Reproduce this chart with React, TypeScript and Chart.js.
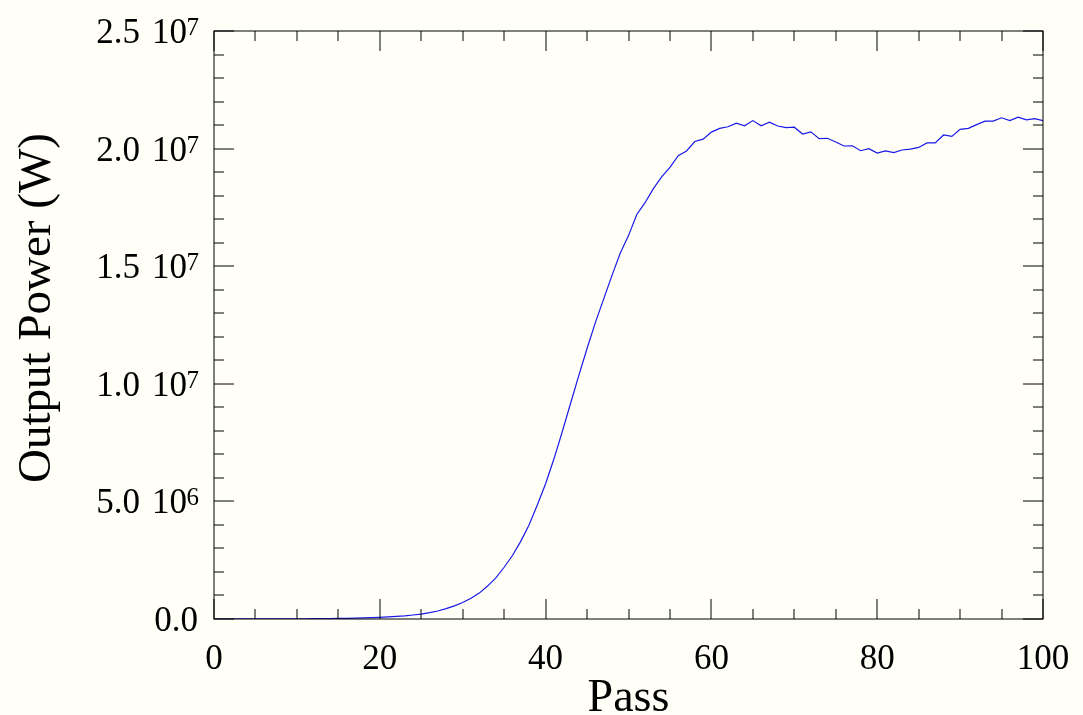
import React, { useEffect, useRef } from "react";
import { Chart, registerables } from "chart.js";

Chart.register(...registerables);

// Pass number (x) and output power in units of 1e6 W (y)
const passes = [
  0, 1, 2, 3, 4, 5, 6, 7, 8, 9, 10, 11, 12, 13, 14, 15, 16, 17, 18, 19, 20,
  21, 22, 23, 24, 25, 26, 27, 28, 29, 30, 31, 32, 33, 34, 35, 36, 37, 38, 39, 40,
  41, 42, 43, 44, 45, 46, 47, 48, 49, 50, 51, 52, 53, 54, 55, 56, 57, 58, 59, 60,
  61, 62, 63, 64, 65, 66, 67, 68, 69, 70, 71, 72, 73, 74, 75, 76, 77, 78, 79, 80,
  81, 82, 83, 84, 85, 86, 87, 88, 89, 90, 91, 92, 93, 94, 95, 96, 97, 98, 99, 100,
];

const outputPowerMW = [
  0.001, 0.001, 0.001, 0.002, 0.002, 0.003, 0.003, 0.004, 0.005, 0.006, 0.008,
  0.010, 0.012, 0.015, 0.019, 0.024, 0.030, 0.037, 0.046, 0.057, 0.070,
  0.088, 0.11, 0.135, 0.17, 0.21, 0.27, 0.34, 0.44, 0.56, 0.70,
  0.88, 1.10, 1.40, 1.75, 2.20, 2.70, 3.30, 4.00, 4.85, 5.75,
  6.80, 7.95, 9.15, 10.35, 11.5, 12.6, 13.6, 14.6, 15.55, 16.3,
  17.2, 17.7, 18.3, 18.8, 19.2, 19.7, 19.9, 20.3, 20.4, 20.7,
  20.86, 20.93, 21.08, 20.97, 21.19, 20.97, 21.12, 20.96, 20.89, 20.91,
  20.62, 20.71, 20.42, 20.44, 20.28, 20.11, 20.12, 19.91, 20.0, 19.81,
  19.90, 19.83, 19.94, 19.98, 20.05, 20.24, 20.24, 20.58, 20.52, 20.82,
  20.86, 21.02, 21.17, 21.17, 21.31, 21.19, 21.34, 21.22, 21.27, 21.19,
];

// Axis ticks
const xMajorTicks = [0, 20, 40, 60, 80, 100];
const xMinorTicks = [0, 5, 10, 15, 20, 25, 30, 35, 40, 45, 50, 55, 60, 65, 70, 75, 80, 85, 90, 95, 100];
const xTickLabels = ["0", "20", "40", "60", "80", "100"];

const yMajorTicks = [0, 5, 10, 15, 20, 25];
const yMinorTicks = [0, 1, 2, 3, 4, 5, 6, 7, 8, 9, 10, 11, 12, 13, 14, 15, 16, 17, 18, 19, 20, 21, 22, 23, 24, 25];
const yTickMantissas = ["0.0", "5.0", "1.0", "1.5", "2.0", "2.5"];
const yTickExponents = ["", "6", "7", "7", "7", "7"];

const xTitle = "Pass";
const yTitle = "Output Power (W)";

const BG = "#fffff7";
const SERIF = '"Liberation Serif", "Times New Roman", serif';

const framePlugin = {
  id: "frame",
  beforeDraw(chart: any) {
    const { ctx, width, height } = chart;
    ctx.save();
    ctx.fillStyle = BG;
    ctx.fillRect(0, 0, width, height);
    ctx.restore();
  },
  afterDraw(chart: any) {
    const { ctx } = chart;
    const { left, right, top, bottom } = chart.chartArea;
    const xs = chart.scales.x;
    const ys = chart.scales.y;
    ctx.save();
    ctx.strokeStyle = "#000";
    ctx.lineWidth = 1;
    ctx.strokeRect(left, top, right - left, bottom - top);

    const seg = (x1: number, y1: number, x2: number, y2: number) => {
      ctx.beginPath();
      ctx.moveTo(x1, y1);
      ctx.lineTo(x2, y2);
      ctx.stroke();
    };

    for (const v of xMinorTicks) {
      const px = Math.round(xs.getPixelForValue(v));
      const len = xMajorTicks.includes(v) ? 20 : 10;
      seg(px, bottom, px, bottom - len);
      seg(px, top, px, top + len);
    }
    for (const v of yMinorTicks) {
      const py = Math.round(ys.getPixelForValue(v));
      const len = yMajorTicks.includes(v) ? 20 : 10;
      seg(left, py, left + len, py);
      seg(right, py, right - len, py);
    }

    ctx.fillStyle = "#000";
    ctx.textBaseline = "alphabetic";
    // x tick labels
    ctx.font = `35px ${SERIF}`;
    ctx.textAlign = "center";
    xMajorTicks.forEach((v, i) => {
      ctx.fillText(xTickLabels[i], xs.getPixelForValue(v), bottom + 50);
    });

    // y tick labels: mantissa, "10" and a raised exponent
    const labelRight = left - 16;
    yMajorTicks.forEach((v, i) => {
      const py = ys.getPixelForValue(v);
      const exp = yTickExponents[i];
      ctx.textAlign = "right";
      if (exp) {
        ctx.font = `25px ${SERIF}`;
        ctx.fillText(exp, labelRight + 1, py + 4);
        ctx.font = `35px ${SERIF}`;
        ctx.fillText("10", labelRight - 11, py + 12);
        ctx.fillText(yTickMantissas[i], labelRight - 58, py + 12);
      } else {
        ctx.font = `35px ${SERIF}`;
        ctx.fillText(yTickMantissas[i], labelRight, py + 12);
      }
    });

    // axis titles
    ctx.font = `46px ${SERIF}`;
    ctx.textAlign = "center";
    ctx.fillText(xTitle, (left + right) / 2, 711);

    ctx.save();
    ctx.translate(50, 308);
    ctx.rotate(-Math.PI / 2);
    ctx.font = `47px ${SERIF}`;
    ctx.textAlign = "center";
    ctx.fillText(yTitle, 0, 0);
    ctx.restore();

    ctx.restore();
  },
};

export default function App() {
  const canvasRef = useRef<HTMLCanvasElement | null>(null);

  useEffect(() => {
    if (!canvasRef.current) return;
    const chart = new Chart(canvasRef.current, {
      type: "line",
      data: {
        datasets: [
          {
            data: passes.map((p, i) => ({ x: p, y: outputPowerMW[i] })),
            borderColor: "rgb(25, 25, 235)",
            borderWidth: 1.2,
            pointRadius: 0,
            tension: 0,
            fill: false,
          },
        ],
      },
      options: {
        animation: false,
        responsive: false,
        devicePixelRatio: 1,
        layout: { padding: { left: 214, right: 40, top: 31, bottom: 96 } },
        plugins: { legend: { display: false }, tooltip: { enabled: false } },
        scales: {
          x: { type: "linear", min: 0, max: 100, display: false },
          y: { type: "linear", min: 0, max: 25, display: false },
        },
      },
      plugins: [framePlugin],
    });
    return () => chart.destroy();
  }, []);

  return (
    <div style={{ position: "fixed", left: 0, top: 0, width: 1083, height: 715, background: BG }}>
      <canvas ref={canvasRef} width={1083} height={715} />
    </div>
  );
}
